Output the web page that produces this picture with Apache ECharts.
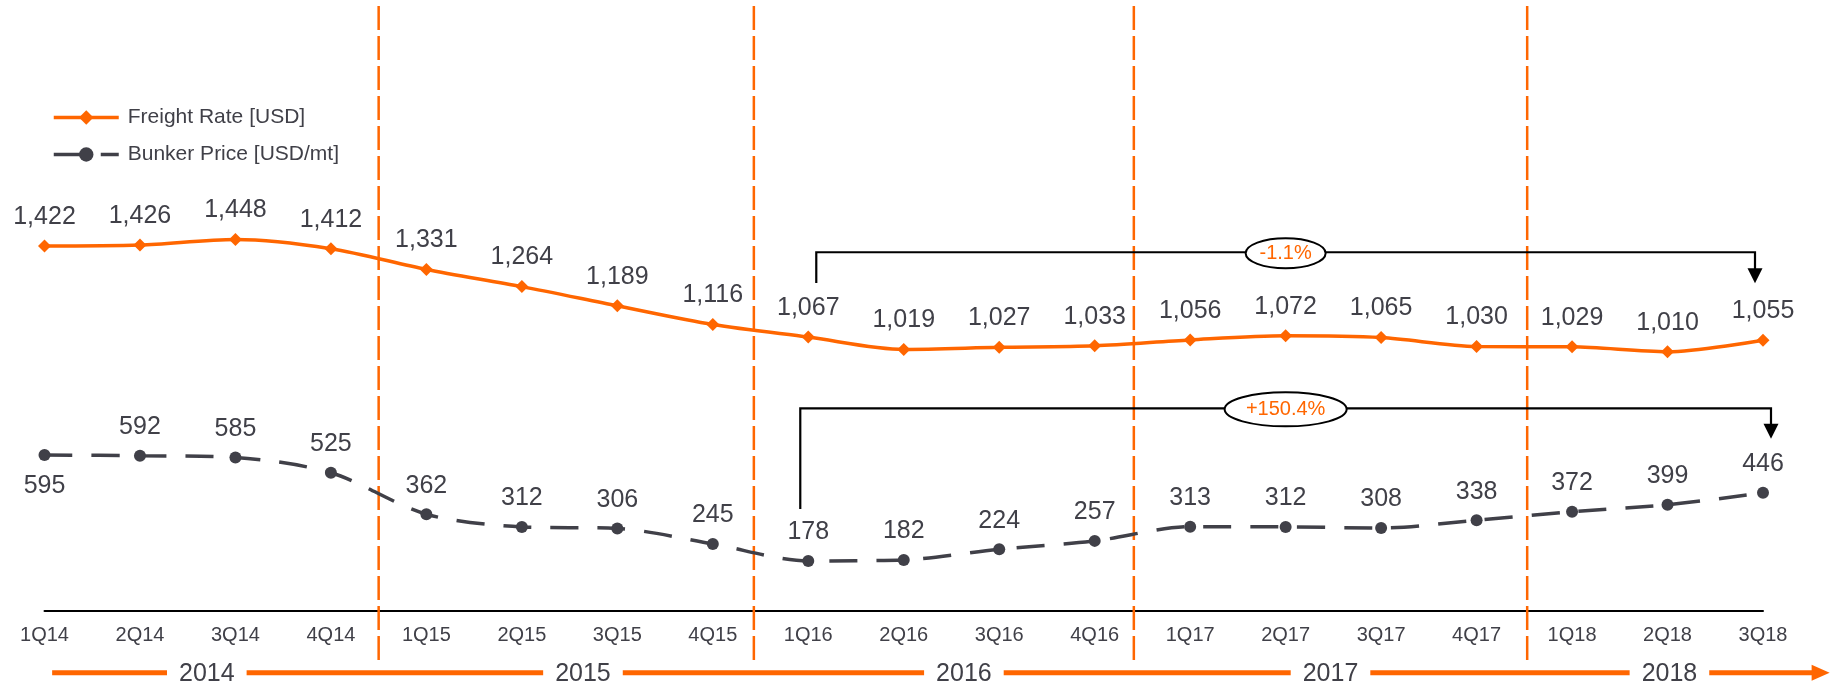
<!DOCTYPE html>
<html>
<head>
<meta charset="utf-8">
<script src="https://cdn.jsdelivr.net/npm/echarts@6/dist/echarts.min.js"></script>
<style>
  html, body { margin: 0; padding: 0; background: #fff; }
  #chart { width: 1839px; height: 687px; }
</style>
</head>
<body>
<div id="chart"></div>
<script>
// Quarterly freight rate vs. bunker price, 1Q14 – 3Q18
const quarters = ['1Q14', '2Q14', '3Q14', '4Q14', '1Q15', '2Q15', '3Q15', '4Q15',
  '1Q16', '2Q16', '3Q16', '4Q16', '1Q17', '2Q17', '3Q17', '4Q17', '1Q18', '2Q18', '3Q18'];
const freightRate = [1422, 1426, 1448, 1412, 1331, 1264, 1189, 1116,
  1067, 1019, 1027, 1033, 1056, 1072, 1065, 1030, 1029, 1010, 1055];
const bunkerPrice = [595, 592, 585, 525, 362, 312, 306, 245,
  178, 182, 224, 257, 313, 312, 308, 338, 372, 399, 446];
const years = ['2014', '2015', '2016', '2017', '2018'];
const changeLabels = ['-1.1%', '+150.4%'];
const seriesNames = ['Freight Rate [USD]', 'Bunker Price [USD/mt]'];

const ORANGE = '#FF6600';
const INK = '#404048';
const FONT = '"Liberation Sans", Arial, sans-serif';

const chart = echarts.init(document.getElementById('chart'), null, { renderer: 'canvas' });

const fmt = v => Number(v).toLocaleString('en-US');

chart.setOption({
  animation: false,
  backgroundColor: '#fff',
  textStyle: { fontFamily: FONT },
  grid: { left: 44.5, right: 76, top: 98, bottom: 76.5, containLabel: false },
  legend: {
    data: seriesNames,
    orient: 'vertical',
    left: 47,
    top: 102,
    itemWidth: 65,
    itemHeight: 18,
    itemGap: 16,
    lineStyle: { width: 3.5 },
    textStyle: { fontSize: 21, color: INK, fontFamily: FONT, padding: [0, 0, 0, 4] }
  },
  xAxis: {
    type: 'category',
    data: quarters,
    boundaryGap: false,
    axisLine: { show: true, onZero: false, lineStyle: { color: '#000', width: 2 } },
    axisTick: { show: false },
    splitLine: { show: false },
    axisLabel: { margin: 15, fontSize: 20, color: INK, fontFamily: FONT, interval: 0 }
  },
  yAxis: [
    { type: 'value', min: 0, max: 2000, show: false, splitLine: { show: false } },
    { type: 'value', min: -17, max: 2000, show: false, splitLine: { show: false } }
  ],
  series: [
    {
      name: seriesNames[0],
      type: 'line',
      yAxisIndex: 0,
      data: freightRate,
      smooth: 0.3,
      symbol: 'diamond',
      symbolSize: 13,
      z: 4,
      lineStyle: { color: ORANGE, width: 3.5 },
      itemStyle: { color: ORANGE },
      label: {
        show: true, position: 'top', distance: 10,
        fontSize: 25, color: INK, fontFamily: FONT,
        formatter: p => fmt(p.value)
      }
    },
    {
      name: seriesNames[1],
      type: 'line',
      yAxisIndex: 1,
      data: bunkerPrice.map((v, i) => i === 0
        ? { value: v, label: { position: 'bottom', distance: 13 } }
        : v),
      smooth: 0.3,
      symbol: 'circle',
      symbolSize: 12,
      z: 4,
      lineStyle: { color: INK, width: 3.5, type: [28, 19] },
      itemStyle: { color: INK },
      label: {
        show: true, position: 'top', distance: 10,
        fontSize: 25, color: INK, fontFamily: FONT,
        formatter: p => fmt(p.value)
      }
    }
  ]
});

// ---- overlay: year dividers, timeline bar and change brackets ----
const layout = {
  dividers: [3.5, 7.43, 11.41, 15.53],   // in category units
  yearCentres: [1.70, 5.64, 9.63, 13.47, 17.02],
  barStart: 0.08, barEnd: 18.53,
  brackets: [
    // from/to: category index; level: freight-axis value; dx: px offsets of the two legs
    { from: 8, to: 18, level: 1398, dx: [8, -8], series: 0, legLift: 54, tipLift: 57, label: 0, rx: 40, ry: 15 },
    { from: 8, to: 18, level: 789, dx: [-8, 8], series: 1, legLift: 52, tipLift: 54, label: 1, rx: 61, ry: 17 }
  ],
  ellipseAt: 13
};

function drawOverlay() {
  const x0 = chart.convertToPixel({ xAxisIndex: 0 }, quarters[0]);
  const xN = chart.convertToPixel({ xAxisIndex: 0 }, quarters[quarters.length - 1]);
  const xAt = f => x0 + f * (xN - x0) / (quarters.length - 1);
  const yOf = (axis, v) => chart.convertToPixel({ yAxisIndex: axis }, v);
  const values = [freightRate, bunkerPrice];

  const els = [];

  layout.dividers.forEach(f => {
    els.push({
      type: 'line', z: 1, silent: true,
      shape: { x1: xAt(f), y1: 6, x2: xAt(f), y2: 665 },
      style: { stroke: ORANGE, lineWidth: 2.5, lineDash: [24, 6] }
    });
  });

  const barY = 672.7;
  els.push({
    type: 'line', z: 1, silent: true,
    shape: { x1: xAt(layout.barStart), y1: barY, x2: xAt(layout.barEnd), y2: barY },
    style: { stroke: ORANGE, lineWidth: 5 }
  });
  const tipX = xAt(layout.barEnd);
  els.push({
    type: 'polygon', z: 1, silent: true,
    shape: { points: [[tipX - 2, barY - 8], [tipX + 16, barY], [tipX - 2, barY + 8]] },
    style: { fill: ORANGE }
  });
  years.forEach((y, i) => {
    els.push({
      type: 'text', z: 3, silent: true,
      x: xAt(layout.yearCentres[i]), y: barY + 1,
      style: {
        text: y, fill: INK, font: '25px ' + FONT,
        align: 'center', verticalAlign: 'middle',
        backgroundColor: '#fff', padding: [0, 12]
      }
    });
  });

  layout.brackets.forEach(b => {
    const vals = values[b.series];
    const axis = b.series;
    const xl = xAt(b.from) + b.dx[0];
    const xr = xAt(b.to) + b.dx[1];
    const yl = yOf(0, b.level);
    const legEnd = yOf(axis, vals[b.from]) - b.legLift;
    const tipY = yOf(axis, vals[b.to]) - b.tipLift;
    els.push({
      type: 'polyline', z: 5, silent: true,
      shape: { points: [[xl, legEnd], [xl, yl], [xr, yl], [xr, tipY - 14]] },
      style: { stroke: '#000', lineWidth: 2.2, fill: null }
    });
    els.push({
      type: 'polygon', z: 5, silent: true,
      shape: { points: [[xr - 7.5, tipY - 15], [xr + 7.5, tipY - 15], [xr, tipY]] },
      style: { fill: '#000' }
    });
    const cx = xAt(layout.ellipseAt);
    els.push({
      type: 'ellipse', z: 6, silent: true,
      shape: { cx: cx, cy: yl + 1, rx: b.rx, ry: b.ry },
      style: { fill: '#fff', stroke: '#000', lineWidth: 2 }
    });
    els.push({
      type: 'text', z: 7, silent: true,
      x: cx, y: yl + 1,
      style: {
        text: changeLabels[b.label], fill: ORANGE, font: '20px ' + FONT,
        align: 'center', verticalAlign: 'middle'
      }
    });
  });

  chart.setOption({ graphic: { elements: els } });
}

drawOverlay();
</script>
</body>
</html>
